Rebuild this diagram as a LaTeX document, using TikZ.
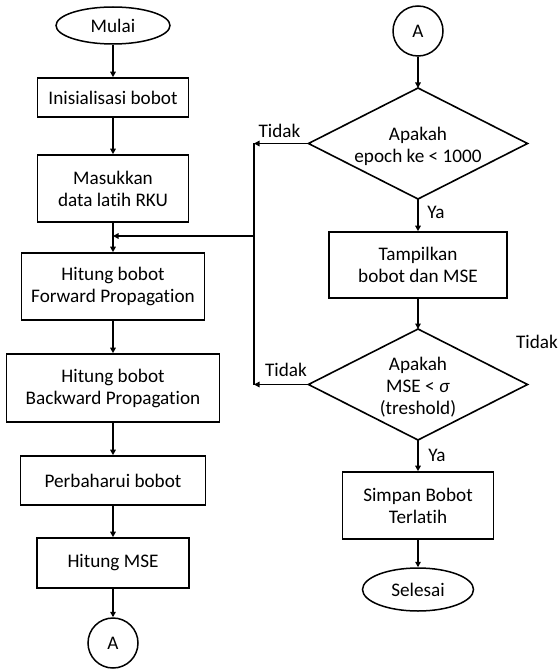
\documentclass[tikz,border=0pt]{standalone}
\usepackage{fontspec}
\setmainfont{Carlito}[Ligatures=NoCommon]
\usetikzlibrary{shapes.geometric,arrows.meta}
\begin{document}
\begin{tikzpicture}[x=1pt,y=-1pt,
  font=\fontsize{19.2}{22}\selectfont,
  box/.style={draw,line width=1.6pt,rectangle,align=center,inner sep=0pt},
  term/.style={draw,line width=1.5pt,ellipse,inner sep=0pt},
  conn/.style={draw,line width=1.5pt,circle,inner sep=0pt,minimum size=50pt},
  dec/.style={draw,line width=1.6pt,diamond,inner sep=0pt,outer sep=0pt,minimum width=219pt,minimum height=111pt},
  dectext/.style={align=center,inner sep=0pt},
  flow/.style={line width=1.5pt,-{Triangle[length=5.5pt,width=5.5pt]}},
  plain/.style={line width=1.5pt},
  lbl/.style={inner sep=0pt}]
\useasboundingbox (0,0) rectangle (557,671);
\fill[white] (0,0) rectangle (557,671);
% left column
\node[term,minimum width=114pt,minimum height=37pt] (mulai) at (113,25.5) {Mulai};
\node[box,minimum width=151pt,minimum height=39pt] (init) at (113,97.5) {Inisialisasi bobot};
\node[box,minimum width=151pt,minimum height=67pt] (masuk) at (113,188.5) {Masukkan\\data latih RKU};
\node[box,minimum width=183pt,minimum height=67pt] (fwd) at (113,286.5) {Hitung bobot\\Forward Propagation};
\node[box,minimum width=213pt,minimum height=68pt] (bwd) at (113,388) {Hitung bobot\\Backward Propagation};
\node[box,minimum width=185pt,minimum height=49pt] (perb) at (113,480.5) {Perbaharui bobot};
\node[box,minimum width=152pt,minimum height=50pt] (mse) at (113,563) {Hitung MSE};
\node[conn] (a1) at (113,643) {A};
% right column
\node[conn] (a2) at (418,31) {A};
\node[dec] (d1) at (418,143.5) {};
\node[dectext] (d1t) at (418,146) {Apakah\\epoch ke < 1000};
\node[box,minimum width=178pt,minimum height=66pt] (tamp) at (418,265) {Tampilkan\\bobot dan MSE};
\node[dec] (d2) at (418,384.5) {};
\node[dectext] (d2t) at (418,387) {Apakah\\MSE < \textit{σ}\\(treshold)};
\node[box,minimum width=151pt,minimum height=67pt] (simpan) at (418,505.5) {Simpan Bobot\\Terlatih};
\node[term,minimum width=111pt,minimum height=43pt] (selesai) at (418,589.5) {Selesai};
% coordinates of the loop-back line
\coordinate (vtop) at (254,143.5);
\coordinate (vbot) at (254,384.5);
\coordinate (vj) at (254,236);
\coordinate (mj) at (113,236);
% connectors left
\draw[flow] (mulai) -- (init);
\draw[flow] (init) -- (masuk);
\draw[flow] (masuk) -- (fwd);
\draw[flow] (fwd) -- (bwd);
\draw[flow] (bwd) -- (perb);
\draw[flow] (perb) -- (mse);
\draw[flow] (mse) -- (a1);
% connectors right
\draw[flow] (a2) -- (d1.north);
\draw[flow] (d1.south) -- (tamp);
\draw[flow] (tamp) -- (d2.north);
\draw[flow] (d2.south) -- (simpan);
\draw[flow] (simpan) -- (selesai);
% loop back
\draw[flow] (d1.west) -- (vtop);
\draw[flow] (d2.west) -- (vbot);
\draw[plain] (vtop) -- (vbot);
\draw[flow] (vj) -- (mj);
% labels
\node[lbl] (t1) at (279.5,131) {Tidak};
\node[lbl] (y1) at (436,212) {Ya};
\node[lbl] (t3) at (537,342) {Tidak};
\node[lbl] (t2) at (286,370) {Tidak};
\node[lbl] (y2) at (437,455) {Ya};
\end{tikzpicture}
\end{document}
